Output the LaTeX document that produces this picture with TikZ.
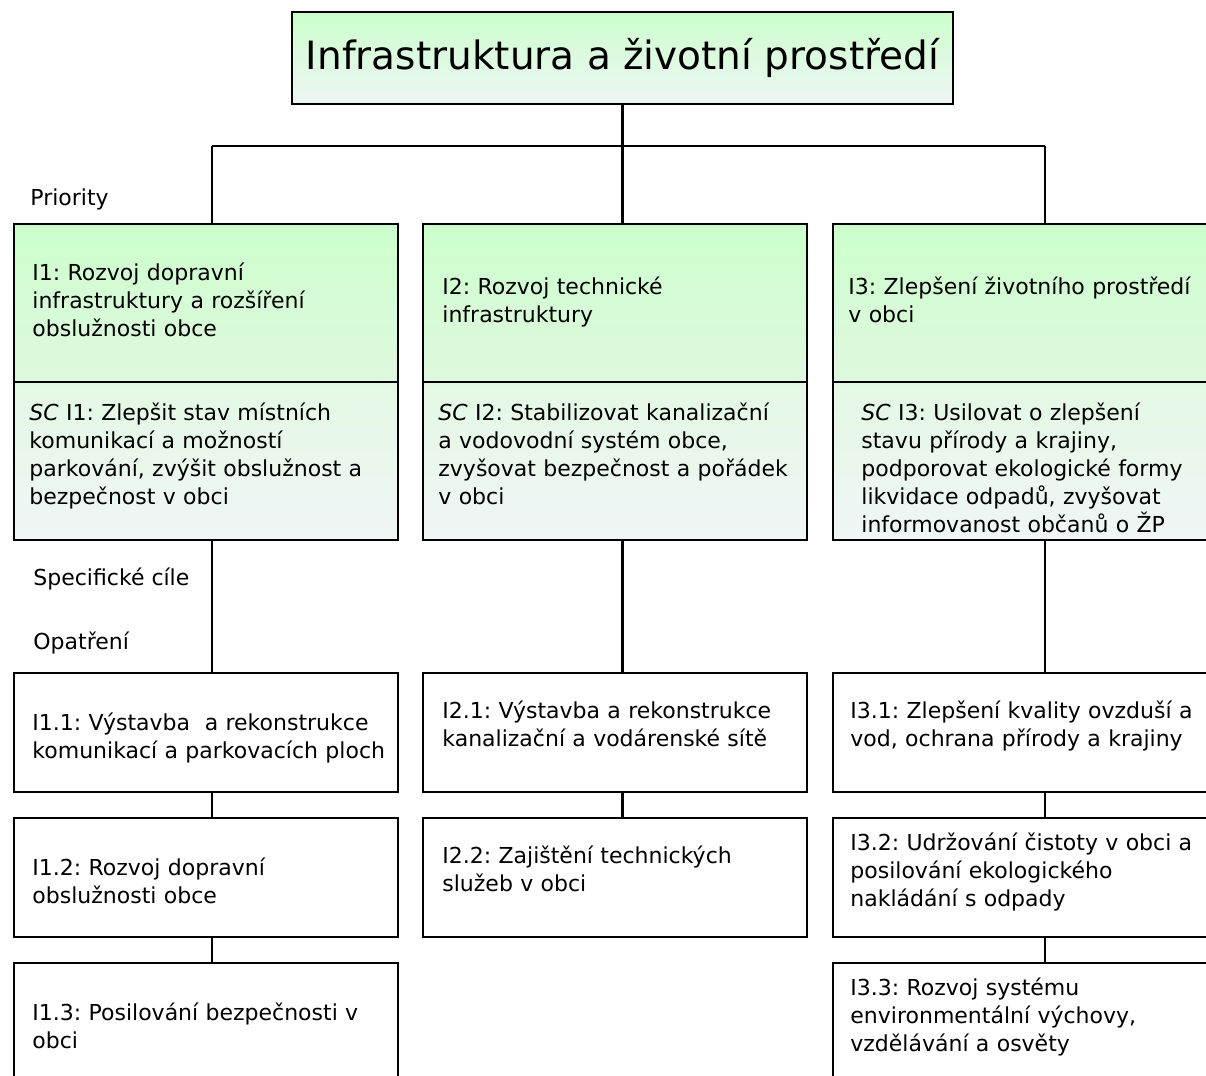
\documentclass[tikz,border=0pt]{standalone}
\usepackage{fontspec}
\setmainfont{DejaVu Sans}
\usetikzlibrary{fit}
\frenchspacing
\definecolor{prtop}{HTML}{CCFFCC}
\definecolor{prbot}{HTML}{DFF8DF}
\definecolor{sctop}{HTML}{E3F8E3}
\definecolor{scbot}{HTML}{F0F6F6}
\definecolor{tttop}{HTML}{CCFFCC}
\definecolor{ttbot}{HTML}{EEF5F4}
\begin{document}
\begin{tikzpicture}[x=0.5pt,y=-0.5pt,
  box/.style={draw=black, line width=1.1pt, inner sep=0pt},
  pri/.style={box, top color=prtop, bottom color=prbot},
  scb/.style={box, top color=sctop, bottom color=scbot},
  opb/.style={box, fill=white},
  txt/.style={anchor=base west, inner sep=0pt, text width=215pt, align=left, font=\fontsize{11}{14}\selectfont},
  lbl/.style={anchor=base west, inner sep=0pt, font=\fontsize{11}{14}\selectfont},
  conn/.style={line width=1.1pt}]
\useasboundingbox (0,0) rectangle (1206,1076);
\clip (0,0) rectangle (1206,1076);
\fill[white] (0,0) rectangle (1206,1076);

% title
\node[box, top color=tttop, bottom color=ttbot, fit={(292,12) (953,104)}] (title) {};
\node[inner sep=0pt, font=\fontsize{19.5}{24}\selectfont] (titletxt) at (622.5,58) {Infrastruktura a životní prostředí};

% priority boxes
\node[pri, fit={(14,224) (398,382)}] (bp1) {};
\node[pri, fit={(423,224) (807,382)}] (bp2) {};
\node[pri, fit={(833,224) (1217,382)}] (bp3) {};
\node[scb, fit={(14,382) (398,540)}] (bs1) {};
\node[scb, fit={(423,382) (807,540)}] (bs2) {};
\node[scb, fit={(833,382) (1217,540)}] (bs3) {};

% measure boxes
\node[opb, fit={(14,673) (398,792)}] (bo11) {};
\node[opb, fit={(14,818) (398,937)}] (bo12) {};
\node[opb, fit={(14,963) (398,1095)}] (bo13) {};
\node[opb, fit={(423,673) (807,792)}] (bo21) {};
\node[opb, fit={(423,818) (807,937)}] (bo22) {};
\node[opb, fit={(833,673) (1217,792)}] (bo31) {};
\node[opb, fit={(833,818) (1217,937)}] (bo32) {};
\node[opb, fit={(833,963) (1217,1095)}] (bo33) {};

% texts
\node[txt] (tp1) at (32,280) {I1: Rozvoj dopravní\\infrastruktury a rozšíření\\obslužnosti obce};
\node[txt] (tp2) at (442,294) {I2: Rozvoj technické\\infrastruktury};
\node[txt] (tp3) at (848,294) {I3: Zlepšení životního prostředí\\v obci};
\node[txt] (ts1) at (29,420) {{\itshape SC} I1: Zlepšit stav místních\\komunikací a možností\\parkování, zvýšit obslužnost a\\bezpečnost v obci};
\node[txt] (ts2) at (438,420) {{\itshape SC} I2: Stabilizovat kanalizační\\a vodovodní systém obce,\\zvyšovat bezpečnost a pořádek\\v obci};
\node[txt] (ts3) at (861,420) {{\itshape SC} I3: Usilovat o zlepšení\\stavu přírody a krajiny,\\podporovat ekologické formy\\likvidace odpadů, zvyšovat\\informovanost občanů o ŽP};
\node[txt] (to11) at (32,730) {I1.1: Výstavba\ \ a rekonstrukce\\komunikací a parkovacích ploch};
\node[txt] (to12) at (32,875) {I1.2: Rozvoj dopravní\\obslužnosti obce};
\node[txt] (to13) at (32,1020) {I1.3: Posilování bezpečnosti v\\obci};
\node[txt] (to21) at (442,718) {I2.1: Výstavba a rekonstrukce\\kanalizační a vodárenské sítě};
\node[txt] (to22) at (442,863) {I2.2: Zajištění technických\\služeb v obci};
\node[txt] (to31) at (850,718) {I3.1: Zlepšení kvality ovzduší a\\vod, ochrana přírody a krajiny};
\node[txt] (to32) at (850,850) {I3.2: Udržování čistoty v obci a\\posilování ekologického\\nakládání s odpady};
\node[txt] (to33) at (850,995) {I3.3: Rozvoj systému\\environmentální výchovy,\\vzdělávání a osvěty};

% side labels
\node[lbl] (lpri) at (30,205) {Priority};
\node[lbl] (lsc) at (33,585) {Specifické cíle};
\node[lbl] (lop) at (33,649) {Opatření};

% connectors
\coordinate (bus1) at (212,146);
\coordinate (bus2) at (622.5,146);
\coordinate (bus3) at (1045,146);
\draw[conn] (title.south) -- (bus2);
\draw[conn] (bus1) -- (bus3);
\draw[conn] (bus1) -- (bus1 |- bp1.north);
\draw[conn] (bus2) -- (bus2 |- bp2.north);
\draw[conn] (bus3) -- (bus3 |- bp3.north);
\draw[conn] (bs1.south -| bus1) -- (bo11.north -| bus1);
\draw[conn] (bo11.south -| bus1) -- (bo12.north -| bus1);
\draw[conn] (bo12.south -| bus1) -- (bo13.north -| bus1);
\draw[conn] (bs2.south -| bus2) -- (bo21.north -| bus2);
\draw[conn] (bo21.south -| bus2) -- (bo22.north -| bus2);
\draw[conn] (bs3.south -| bus3) -- (bo31.north -| bus3);
\draw[conn] (bo31.south -| bus3) -- (bo32.north -| bus3);
\draw[conn] (bo32.south -| bus3) -- (bo33.north -| bus3);
\end{tikzpicture}
\end{document}
